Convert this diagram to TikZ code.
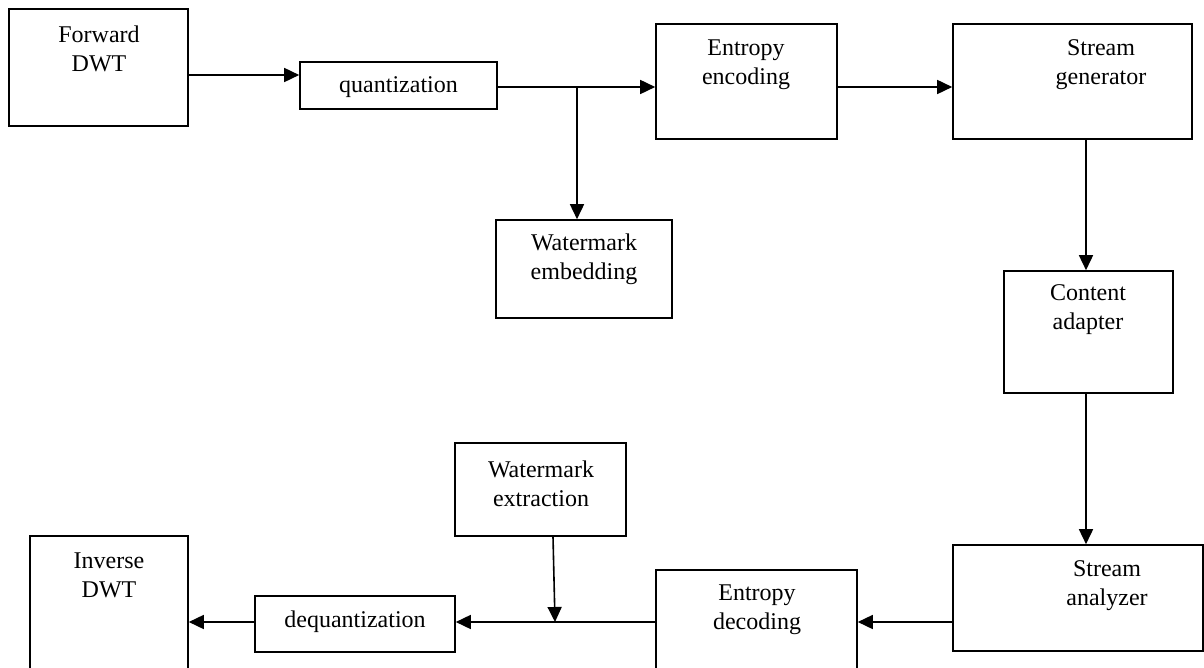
\documentclass[tikz,border=0pt]{standalone}
\usepackage{fontspec}
\setmainfont{Liberation Serif}
\usetikzlibrary{arrows.meta,fit,positioning}

\begin{document}
\begin{tikzpicture}[x=0.5pt,y=-0.5pt,
	blk/.style={draw,line width=0.8pt,inner sep=0pt},
	lbl/.style={align=center,inner sep=0pt,font=\fontsize{12}{14.5}\selectfont},
	flow/.style={-{Triangle[length=7.5pt,width=7pt]},line width=0.8pt}]
\useasboundingbox (0,0) rectangle (1204,668);
\clip (0,0) rectangle (1204,668);

% encoder side
\node[blk,fit={(9,9) (188,126)}] (fdwt) {};
\node[blk,fit={(300,62) (497,109)}] (quant) {};
\node[blk,fit={(656,24) (837,139)}] (eenc) {};
\node[blk,fit={(953,24) (1192,139)}] (sgen) {};
\node[blk,fit={(496,220) (672,318)}] (wemb) {};
\node[blk,fit={(1004,271) (1173,393)}] (cada) {};

% decoder side
\node[blk,fit={(953,545) (1203,651)}] (sana) {};
\node[blk,fit={(656,570) (857,700)}] (edec) {};
\node[blk,fit={(455,443) (626,536)}] (wext) {};
\node[blk,fit={(255,596) (455,652)}] (dequ) {};
\node[blk,fit={(30,536) (188,700)}] (idwt) {};

% texts
\node[lbl] (fdwt-t) at (99,48.5) {Forward\\DWT};
\node[lbl] (quant-t) at (398.5,87) {quantization};
\node[lbl] (eenc-t) at (746,64.5) {Entropy\\encoding};
\node[lbl] (sgen-t) at (1101,64.5) {Stream\\generator};
\node[lbl] (wemb-t) at (584,259.5) {Watermark\\embedding};
\node[lbl] (cada-t) at (1088,310) {Content\\adapter};
\node[lbl] (sana-t) at (1107,585.5) {Stream\\analyzer};
\node[lbl] (edec-t) at (757,609.5) {Entropy\\decoding};
\node[lbl] (wext-t) at (541,483.5) {Watermark\\extraction};
\node[lbl] (dequ-t) at (355,622) {dequantization};
\node[lbl] (idwt-t) at (109,575.5) {Inverse\\DWT};

\coordinate (r1) at (0,75);
\coordinate (r2) at (0,87);
\coordinate (r3) at (0,622);
\coordinate (c1) at (1086,0);
\coordinate (br) at (577,87);
\coordinate (mrg) at (555,622);

\draw[flow] (fdwt.east |- r1) -- (quant.west |- r1);
\draw[flow] (quant.east |- r2) -- (eenc.west |- r2);
\draw[flow] (br) -- (br |- wemb.north);
\draw[flow] (eenc.east |- r2) -- (sgen.west |- r2);
\draw[flow] (sgen.south -| c1) -- (cada.north -| c1);
\draw[flow] (cada.south -| c1) -- (sana.north -| c1);
\draw[flow] (sana.west |- r3) -- (edec.east |- r3);
\draw[flow] (edec.west |- r3) -- (dequ.east |- r3);
\draw[flow] ([xshift=6.25pt]wext.south) -- (mrg);
\draw[flow] (dequ.west |- r3) -- (idwt.east |- r3);

\end{tikzpicture}
\end{document}
